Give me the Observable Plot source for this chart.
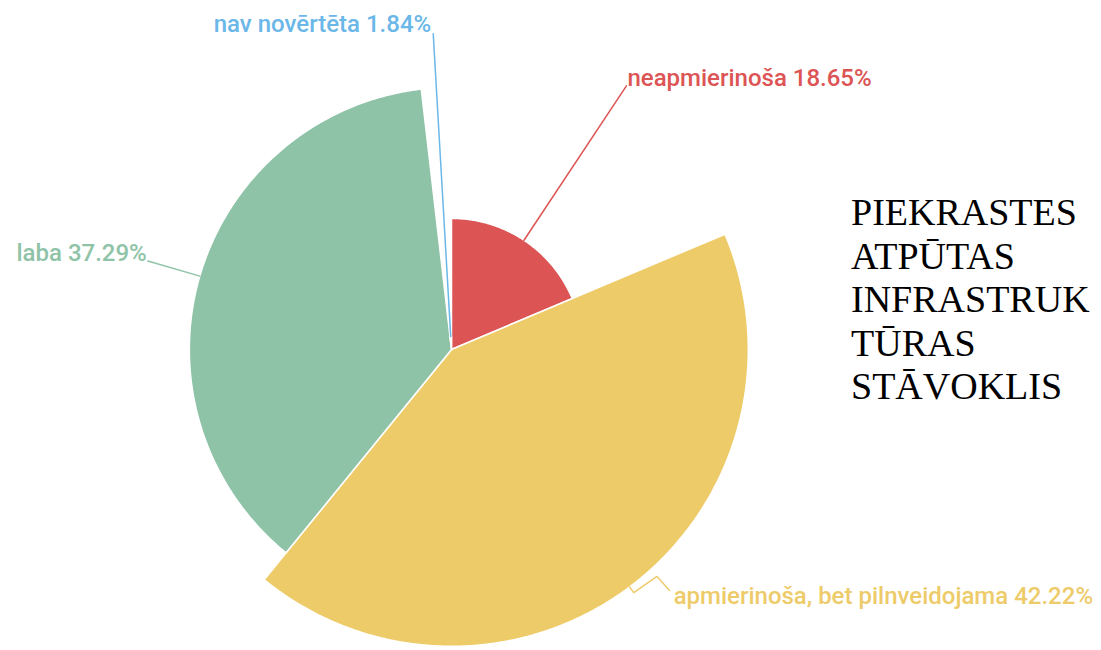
<!DOCTYPE html>
<html>
<head>
<meta charset="utf-8">
<script src="https://cdn.jsdelivr.net/npm/d3@7"></script>
<script src="https://cdn.jsdelivr.net/npm/@observablehq/plot@0.6"></script>
<style>
  html, body { margin: 0; padding: 0; background: #fff; }
  #wrap { position: relative; width: 1101px; height: 650px; }
  #title { position: absolute; left: 851px; top: 191px; font-family: "Liberation Serif", serif; font-size: 38px; line-height: 43.5px; color: #000; white-space: nowrap; }
</style>
</head>
<body>
<div id="wrap">
  <div id="chart"></div>
  <div id="title"></div>
</div>
<script>
// ---- data ----
const categories = ["neapmierinoša", "apmierinoša, bet pilnveidojama", "laba", "nav novērtēta"];
const values = [18.65, 42.22, 37.29, 1.84];
const colors = ["#dc5454", "#eecb69", "#8fc3a7", "#6ab7e8"];
const titleLines = ["PIEKRASTES", "ATPŪTAS", "INFRASTRUK", "TŪRAS", "STĀVOKLIS"];

// ---- layout (rose pie: radius proportional to value) ----
const W = 1101, H = 650;
const k = 7.03;            // pixels per data unit
const cx = 451, cy = 349;  // centre in pixels
const xDomain = [-cx / k, (W - cx) / k];
const yDomain = [-(H - cy) / k, cy / k];
const labelR = 45;         // leader line outer radius (data units)

const total = d3.sum(values);
let acc = 0;
const slices = categories.map((name, i) => {
  const a0 = acc / total * 2 * Math.PI;
  acc += values[i];
  const a1 = acc / total * 2 * Math.PI;
  return {name, value: values[i], color: colors[i], a0, a1, mid: (a0 + a1) / 2};
});
const P = (r, a) => ({x: r * Math.sin(a), y: r * Math.cos(a)});

const marks = [];
for (const s of slices) {
  const pts = [P(0, 0)];
  const n = Math.max(2, Math.ceil((s.a1 - s.a0) / (Math.PI / 360)));
  for (let j = 0; j <= n; j++) pts.push(P(s.value, s.a0 + (s.a1 - s.a0) * j / n));
  pts.push(P(0, 0));
  marks.push(Plot.line(pts, {x: "x", y: "y", fill: s.color, stroke: "white", strokeWidth: 1.5, strokeLinejoin: "round", curve: "linear"}));
}

// leader lines and labels
slices.forEach((s, i) => {
  let pts;
  let anchor, dx, dy;
  if (i === 1) {
    // short zig-zag leader
    const a = P(s.value + 1.0, s.mid);
    pts = [P(s.value, s.mid), a, {x: a.x + 3.3, y: a.y + 2.3}, {x: a.x + 5.1, y: a.y + 0.3}];
    anchor = "start"; dx = 4; dy = 6;
  } else {
    pts = [P(s.value, s.mid), P(labelR, s.mid)];
    const right = Math.sin(s.mid) > 0;
    anchor = right ? "start" : "end";
    dx = right ? 1 : -1;
    dy = -8;
    if (i === 3) { dx = -2; dy = -9; }
  }
  marks.push(Plot.line(pts, {x: "x", y: "y", stroke: s.color, strokeWidth: 1.5}));
  const end = pts[pts.length - 1];
  marks.push(Plot.text([{x: end.x, y: end.y, t: `${s.name} ${s.value.toFixed(2)}%`}], {
    x: "x", y: "y", text: "t", fill: s.color, textAnchor: anchor, lineAnchor: "middle",
    dx, dy, fontSize: 24, fontWeight: 500, fontFamily: "Roboto, sans-serif"
  }));
});

const chart = Plot.plot({
  width: W, height: H,
  margin: 0,
  x: {domain: xDomain, axis: null},
  y: {domain: yDomain, axis: null},
  style: {background: "white", overflow: "visible"},
  marks
});
document.getElementById("chart").append(chart);
document.getElementById("title").innerHTML = titleLines.join("<br>");
</script>
</body>
</html>
